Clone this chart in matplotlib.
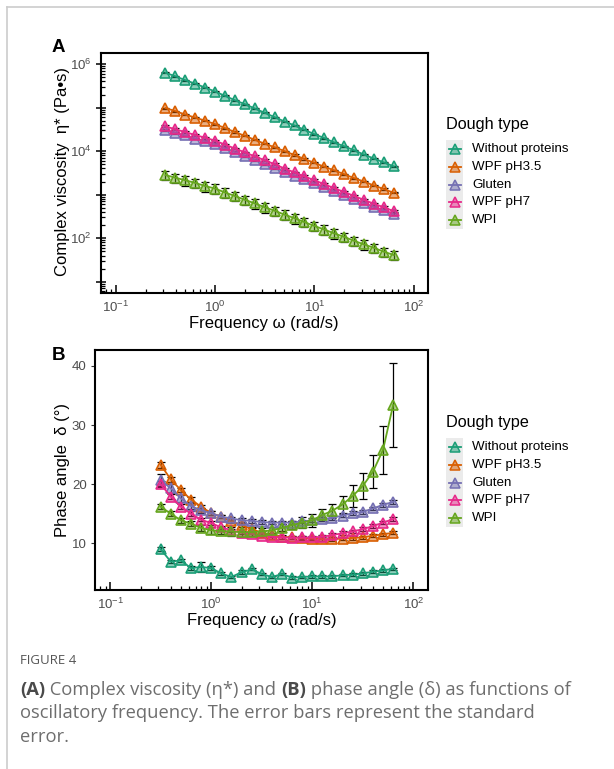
import matplotlib
matplotlib.use("Agg")
import matplotlib.pyplot as plt
import matplotlib.ticker as mticker
from matplotlib.lines import Line2D
from matplotlib.patches import Rectangle
import math

plt.rcParams['font.family'] = ['Liberation Sans', 'DejaVu Sans']
plt.rcParams['mathtext.default'] = 'regular'

W, H = 614, 769

freq = [0.316, 0.398, 0.501, 0.631, 0.794, 1.0, 1.26, 1.58, 2.0, 2.51, 3.16, 3.98,
        5.01, 6.31, 7.94, 10.0, 12.6, 15.8, 20.0, 25.1, 31.6, 39.8, 50.1, 63.1]

groups = ["Without proteins", "WPF pH3.5", "Gluten", "WPF pH7", "WPI"]
colors = ["#1B9E77", "#D95F02", "#7570B3", "#E7298A", "#66A61E"]

# complex viscosity (Pa*s)
visc_without = [631000, 525000, 427000, 355000, 288000, 234000, 186000, 148000, 120000, 95500,
                75900, 60300, 47900, 38900, 30900, 24500, 19950, 15850, 12900, 10500,
                8320, 6760, 5500, 4470]
visc_wpf35 = [97700, 83200, 69200, 58900, 50100, 41700, 33900, 27500, 22400, 18200, 14800,
              12300, 10000, 8130, 6610, 5370, 4370, 3630, 2950, 2400, 2000, 1620, 1350, 1100]
visc_gluten = [30900, 26300, 22900, 19500, 17000, 14500, 11700, 9550, 7760, 6310, 5130, 4170,
               3390, 2750, 2240, 1820, 1480, 1200, 977, 794, 646, 525, 437, 355]
visc_wpf7 = [37200, 31600, 27500, 23400, 20400, 17400, 14100, 11500, 9330, 7590, 6170, 5010,
             3980, 3240, 2630, 2140, 1740, 1410, 1150, 933, 759, 617, 513, 417]
visc_wpi = [2820, 2450, 2140, 1860, 1580, 1380, 1120, 933, 759, 631, 513, 427, 347, 288,
            234, 191, 158, 129, 107, 87, 72, 60, 49, 41]

visc_se_without = [15000, 12000, 10000, 8000, 6500, 5200, 4200, 3300, 2700, 2100, 1700, 1350,
                   1100, 870, 700, 550, 450, 360, 290, 240, 190, 150, 125, 100]
visc_se_wpf35 = [2900, 2500, 2100, 1800, 1500, 1250, 1000, 820, 670, 550, 440, 370, 300, 245,
                 200, 160, 130, 110, 90, 72, 60, 49, 41, 33]
visc_se_gluten = [1500, 1300, 1100, 950, 830, 700, 570, 460, 380, 310, 250, 200, 165, 135,
                  110, 90, 72, 58, 48, 39, 31, 26, 21, 17]
visc_se_wpf7 = [1800, 1550, 1350, 1150, 1000, 850, 690, 560, 460, 370, 300, 245, 195, 160,
                130, 105, 85, 69, 56, 46, 37, 30, 25, 20]
visc_se_wpi = [700, 610, 530, 460, 400, 340, 280, 230, 190, 160, 130, 105, 87, 72, 58, 47,
               39, 32, 27, 22, 18, 15, 12, 10]

# phase angle (deg)
phase_without = [9.0, 6.9, 7.1, 5.8, 6.0, 5.8, 4.9, 4.3, 5.1, 5.6, 4.8, 4.3, 4.8, 4.2, 4.3,
                 4.4, 4.4, 4.4, 4.6, 4.7, 4.9, 5.2, 5.4, 5.7]
phase_wpf35 = [23.3, 20.8, 19.0, 17.4, 16.2, 15.1, 14.5, 13.7, 13.1, 12.4, 11.8, 11.4, 11.1,
               11.0, 10.9, 10.8, 10.7, 10.7, 10.8, 10.9, 11.0, 11.3, 11.5, 11.8]
phase_gluten = [20.7, 19.3, 17.6, 16.3, 15.6, 15.1, 14.5, 14.2, 13.9, 13.8, 13.6, 13.5, 13.5,
                13.5, 13.7, 13.9, 14.1, 14.3, 14.7, 15.1, 15.3, 15.9, 16.5, 17.0]
phase_wpf7 = [20.0, 17.9, 16.2, 15.0, 14.0, 13.4, 12.7, 12.2, 11.8, 11.6, 11.3, 11.1, 11.0,
              10.95, 11.0, 11.0, 11.1, 11.4, 11.7, 12.0, 12.4, 12.9, 13.5, 14.1]
phase_wpi = [16.2, 15.0, 13.9, 13.3, 12.6, 12.2, 12.1, 12.0, 11.9, 11.9, 12.0, 12.2, 12.6,
             13.1, 13.5, 13.9, 14.8, 15.5, 16.6, 18.0, 19.7, 22.1, 25.8, 33.4]

phase_se_without = [0.3, 0.3, 0.3, 0.3, 0.8, 0.3, 0.2, 0.2, 0.3, 0.2, 0.2, 0.2, 0.2, 0.2,
                    0.2, 0.2, 0.2, 0.2, 0.2, 0.2, 0.2, 0.2, 0.2, 0.2]
phase_se_wpf35 = [0.5, 0.4, 0.4, 0.4, 0.3, 0.3, 0.3, 0.3, 0.3, 0.3, 0.3, 0.3, 0.3, 0.3, 0.3,
                  0.3, 0.3, 0.3, 0.3, 0.3, 0.3, 0.3, 0.3, 0.3]
phase_se_gluten = [1.0, 0.8, 0.6, 0.5, 0.4, 0.3, 0.3, 0.3, 0.3, 0.3, 0.3, 0.3, 0.3, 0.3,
                   0.3, 0.3, 0.3, 0.3, 0.3, 0.3, 0.3, 0.3, 0.3, 0.3]
phase_se_wpf7 = [0.5, 0.4, 0.4, 0.4, 0.3, 0.3, 0.3, 0.3, 0.3, 0.3, 0.3, 0.3, 0.3, 0.3, 0.3,
                 0.3, 0.3, 0.3, 0.3, 0.3, 0.3, 0.3, 0.3, 0.3]
phase_se_wpi = [0.4, 0.4, 0.4, 0.4, 0.5, 0.6, 0.6, 0.7, 0.8, 0.7, 0.6, 0.6, 0.6, 0.7, 0.9,
                1.1, 1.0, 1.2, 1.4, 1.8, 2.2, 2.8, 4.0, 7.1]

visc = [visc_without, visc_wpf35, visc_gluten, visc_wpf7, visc_wpi]
visc_se = [visc_se_without, visc_se_wpf35, visc_se_gluten, visc_se_wpf7, visc_se_wpi]
phase = [phase_without, phase_wpf35, phase_gluten, phase_wpf7, phase_wpi]
phase_se = [phase_se_without, phase_se_wpf35, phase_se_gluten, phase_se_wpf7, phase_se_wpi]

TICK_GREY = "#4d4d4d"
TICK_SIZE = 9.5
TITLE_SIZE = 12


def fx(x):
    return x / W


def fy(y):
    return 1 - y / H


def light(c, a=0.5):
    return matplotlib.colors.to_rgba(c, a)


def draw_series(ax, ys, ses):
    for y, se, c in zip(ys, ses, colors):
        ax.errorbar(freq, y, yerr=se, fmt="none", ecolor="black", elinewidth=0.9,
                    capsize=2.8, capthick=0.9, zorder=2)
        ax.plot(freq, y, color=c, lw=1.3, marker="^", ms=7.8, mfc=light(c), mec=c,
                mew=1.2, zorder=3)


def style_axis(ax):
    for s in ax.spines.values():
        s.set_linewidth(1.5)
        s.set_color("black")
    ax.set_xscale("log")
    ax.set_xlim(10 ** -1.15, 10 ** 2.145)
    ax.xaxis.set_major_locator(mticker.LogLocator(base=10, numticks=10))
    ax.xaxis.set_minor_locator(mticker.LogLocator(base=10, subs=range(2, 10), numticks=20))
    ax.xaxis.set_minor_formatter(mticker.NullFormatter())
    ax.tick_params(axis="x", which="major", direction="in", length=6, width=1.1,
                   labelsize=TICK_SIZE, labelcolor=TICK_GREY, pad=5)
    ax.tick_params(axis="x", which="minor", direction="in", length=3, width=0.9)


def even_power(v, pos):
    e = round(math.log10(v))
    return "$10^{%d}$" % e if e % 2 == 0 else ""


def legend(fig, top):
    fig.text(fx(446), fy(top), "Dough type", fontsize=11.7, ha="left", va="center")
    y0 = top + 25
    fig.patches.append(Rectangle((fx(446), fy(y0 + 4 * 17.8 + 9)), fx(17), 1 - fy(5 * 17.8),
                                 transform=fig.transFigure, facecolor="#ebebeb",
                                 edgecolor="none", figure=fig))
    for i, (g, c) in enumerate(zip(groups, colors)):
        yy = fy(y0 + i * 17.8)
        fig.lines.append(Line2D([fx(448.5), fx(461)], [yy, yy], transform=fig.transFigure,
                                color=c, lw=1.3, figure=fig))
        fig.lines.append(Line2D([fx(454.5)], [yy], transform=fig.transFigure, color=c,
                                marker="^", ms=7, mfc=light(c), mec=c, mew=1.1,
                                figure=fig))
        fig.text(fx(472), yy, g, fontsize=9.6, ha="left", va="center")


fig = plt.figure(figsize=(W / 100, H / 100), dpi=100)

# panel A
axA = fig.add_axes([fx(101), fy(293), fx(327), 240 / H])
draw_series(axA, visc, visc_se)
style_axis(axA)
axA.set_yscale("log")
axA.set_ylim(5.5, 1.8e6)
axA.yaxis.set_major_locator(mticker.LogLocator(base=10, numticks=10))
axA.yaxis.set_minor_locator(mticker.LogLocator(base=10, subs=range(2, 10), numticks=20))
axA.yaxis.set_major_formatter(mticker.FuncFormatter(even_power))
axA.yaxis.set_minor_formatter(mticker.NullFormatter())
axA.tick_params(axis="y", which="major", direction="inout", length=7, width=1.1,
                labelsize=TICK_SIZE, labelcolor=TICK_GREY, pad=3)
axA.tick_params(axis="y", which="minor", direction="in", length=3, width=0.9)
fig.text(fx(62), fy(171), "Complex viscosity  η* (Pa•s)", rotation=90, fontsize=TITLE_SIZE,
         ha="center", va="center")
fig.text(fx(264), fy(323), "Frequency ω (rad/s)", fontsize=TITLE_SIZE, ha="center",
         va="center")
fig.text(fx(52), fy(48), "A", fontsize=13.5, fontweight="bold", ha="left", va="center")
legend(fig, 124)

# panel B
axB = fig.add_axes([fx(95), fy(590), fx(333), 240 / H])
draw_series(axB, phase, phase_se)
style_axis(axB)
axB.set_ylim(2.1, 42.7)
axB.set_yticks([10, 20, 30, 40])
axB.tick_params(axis="y", which="major", direction="out", length=3, width=0.8,
                color="#333333", labelsize=TICK_SIZE, labelcolor=TICK_GREY, pad=3)
fig.text(fx(62), fy(470), "Phase angle  δ (°)", rotation=90, fontsize=TITLE_SIZE,
         ha="center", va="center")
fig.text(fx(262), fy(621), "Frequency ω (rad/s)", fontsize=TITLE_SIZE, ha="center",
         va="center")
fig.text(fx(52), fy(355), "B", fontsize=13.5, fontweight="bold", ha="left", va="center")
legend(fig, 422)

# frame lines
fig.lines.append(Line2D([fx(7), fx(W)], [fy(7), fy(7)], transform=fig.transFigure,
                        color="#cccccc", lw=1.2, figure=fig))
fig.lines.append(Line2D([fx(7), fx(7)], [fy(7), fy(H)], transform=fig.transFigure,
                        color="#cccccc", lw=1.2, figure=fig))

# caption
cap_font = ["Open Sans", "DejaVu Sans"]
fig.text(fx(20), fy(660), "FIGURE 4", fontsize=9.5, color="#555555", family=cap_font,
         ha="left", va="center")

renderer = fig.canvas.get_renderer()


def rich_line(pieces, y):
    x = fx(20)
    for txt, bold in pieces:
        t = fig.text(x, fy(y), txt, fontsize=13.2, family=cap_font,
                     fontweight="bold" if bold else "normal",
                     color="#4a4a4a" if bold else "#6e6e6e", ha="left", va="center")
        bb = t.get_window_extent(renderer=renderer)
        x += bb.width / W


rich_line([("(A)", True), (" Complex viscosity (η*) and ", False), ("(B)", True),
           (" phase angle (δ) as functions of", False)], 690)
rich_line([("oscillatory frequency. The error bars represent the standard", False)], 713)
rich_line([("error.", False)], 737)

fig.savefig("out.png", dpi=100)
